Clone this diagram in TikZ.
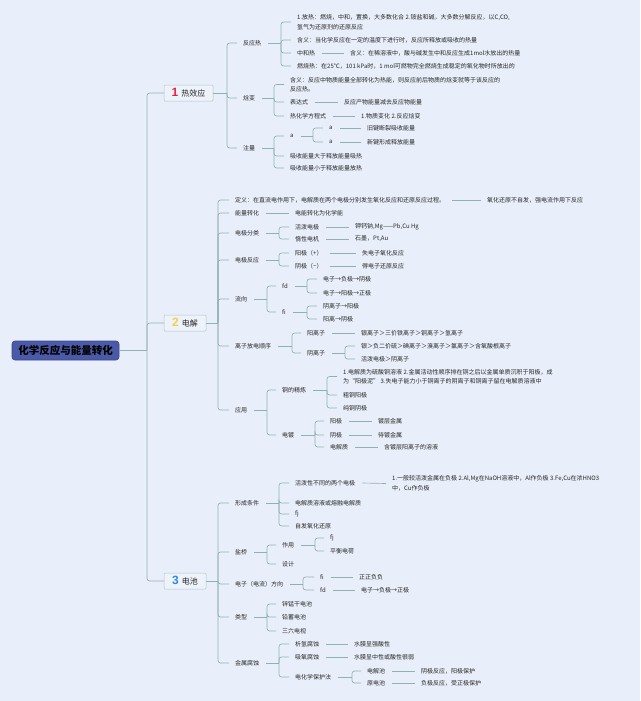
\documentclass[tikz,border=0pt]{standalone}
\usepackage{fontspec}
\newfontfamily\cjk{Noto Sans CJK SC}
\newfontfamily\numf{Liberation Sans}
\definecolor{bgc}{HTML}{E9EFFA}
\definecolor{linec}{HTML}{8FB1B3}
\definecolor{txtc}{HTML}{262626}
\definecolor{rootc}{HTML}{4A5AA8}
\definecolor{rootd}{HTML}{3A478A}
\definecolor{numr}{HTML}{E5233F}
\definecolor{numy}{HTML}{F4CF45}
\definecolor{numb}{HTML}{2B8CDD}
\definecolor{boxc}{HTML}{EEF3FB}
\definecolor{boxd}{HTML}{AFC3C8}
\newcommand\stem[2]{\draw[conn] ([xshift=7pt]#1.east) -- (#2,0 |- #1.east);}
\newcommand\kid[3]{\draw[conn] (#2,0 |- #1.east) |- ([xshift=-6pt]#3.west);}
\newcommand\lnk[2]{\draw[conn] ([xshift=7pt]#1.east) -- ([xshift=-6pt]#2.west);}
\begin{document}
\begin{tikzpicture}[x=1pt,y=-1pt,
 txt/.style={anchor=west,inner xsep=0pt,inner ysep=1pt,font=\cjk\fontsize{6}{9.5}\selectfont,text=txtc,align=left},
 conn/.style={draw=linec,line width=0.65pt,rounded corners=2.5pt},
 topic/.style={draw=boxd,fill=boxc,line width=0.5pt,rounded corners=1pt,minimum height=16pt,inner xsep=0pt,font=\cjk\fontsize{8}{8}\selectfont,text=txtc},
 rootbox/.style={draw=rootd,line width=0.6pt,fill=rootc,rounded corners=3pt,minimum width=107pt,minimum height=19pt,inner sep=0pt,font=\cjk\bfseries\fontsize{10.5}{10.5}\selectfont,text=black}]
\useasboundingbox (0,0) rectangle (640,701);
\fill[bgc] (0,0) rectangle (640,701);

% ---------- root and main topics ----------
\node[rootbox] (root) at (65.5,350.5) {化学反应与能量转化};
\node[topic,minimum width=49pt] (n1) at (188.5,93) {{\numf\bfseries\fontsize{12}{12}\selectfont\color{numr}1}\hspace{3pt}热效应};
\node[topic,minimum width=42pt] (n2) at (185,323) {{\numf\bfseries\fontsize{12}{12}\selectfont\color{numy}2}\hspace{3pt}电解};
\node[topic,minimum width=42pt] (n3) at (185,581) {{\numf\bfseries\fontsize{12}{12}\selectfont\color{numb}3}\hspace{3pt}电池};
\draw[conn] (root.east) -- (147,0 |- root.east);
\draw[conn] (147,0 |- root.east) |- (n1.west);
\draw[conn] (147,0 |- root.east) |- (n2.west);
\draw[conn] (147,0 |- root.east) |- (n3.west);

% ---------- 1 热效应 ----------
\node[txt] (fy) at (243,43) {反应热};
\node[txt] (hb) at (243,98) {焓变};
\node[txt] (zl) at (243,148) {注量};
\draw[conn] (n1.east) -- (227,0 |- n1.east);
\kid{n1}{227}{fy}\kid{n1}{227}{hb}\kid{n1}{227}{zl}

\node[txt] (fy1) at (297,22) {1.放热：燃烧，中和，置换，大多数化合 2.铵盐和碱，大多数分解反应，以C,CO,\\氢气为还原剂的还原反应};
\node[txt] (fy2) at (297,40) {含义：当化学反应在一定的温度下进行时，反应所释放或吸收的热量};
\node[txt] (fy3) at (297,53) {中和热};
\node[txt] (fy3a) at (350,53) {含义：在稀溶液中，酸与碱发生中和反应生成1mol水放出的热量};
\node[txt] (fy4) at (297,66) {燃烧热：在25℃，101 kPa时，1 mol可燃物完全燃烧生成稳定的氧化物时所放出的};
\stem{fy}{281}\kid{fy}{281}{fy1}\kid{fy}{281}{fy2}\kid{fy}{281}{fy3}\kid{fy}{281}{fy4}
\lnk{fy3}{fy3a}

\node[txt] (hb1) at (290,84.5) {含义：反应中物质能量全部转化为热能，则反应前后物质的焓变就等于该反应的\\反应热。};
\node[txt] (hb2) at (290,102) {表达式};
\node[txt] (hb2a) at (344,102) {反应产物能量减去反应物能量};
\node[txt] (hb3) at (290,116) {热化学方程式};
\node[txt] (hb3a) at (361,116) {1.物质变化 2.反应焓变};
\stem{hb}{274}\kid{hb}{274}{hb1}\kid{hb}{274}{hb2}\kid{hb}{274}{hb3}
\lnk{hb2}{hb2a}\lnk{hb3}{hb3a}

\node[txt] (zl1) at (290,136) {a};
\node[txt] (zl1a) at (329,128) {a};
\node[txt] (zl1aa) at (367,128) {旧键断裂吸收能量};
\node[txt] (zl1b) at (329,142) {a};
\node[txt] (zl1bb) at (367,142) {新键形成释放能量};
\node[txt] (zl2) at (290,156) {吸收能量大于释放能量吸热};
\node[txt] (zl3) at (290,168) {吸收能量小于释放能量放热};
\stem{zl}{274}\kid{zl}{274}{zl1}\kid{zl}{274}{zl2}\kid{zl}{274}{zl3}
\stem{zl1}{313}\kid{zl1}{313}{zl1a}\kid{zl1}{313}{zl1b}
\lnk{zl1a}{zl1aa}\lnk{zl1b}{zl1bb}

% ---------- 2 电解 ----------
\node[txt] (dy) at (235,200) {定义：在直流电作用下，电解质在两个电极分别发生氧化反应和还原反应过程。};
\node[txt] (dya) at (487,200) {氧化还原不自发，强电流作用下反应};
\node[txt] (nl) at (235,213) {能量转化};
\node[txt] (nla) at (295,213) {电能转化为化学能};
\node[txt] (dj) at (235,233) {电极分类};
\node[txt] (fyy) at (235,260) {电极反应};
\node[txt] (lx) at (235,299) {流向};
\node[txt] (lz) at (235,346) {离子放电顺序};
\node[txt] (yy) at (235,410) {应用};
\draw[conn] (n2.east) -- (218,0 |- n2.east);
\kid{n2}{218}{dy}\kid{n2}{218}{nl}\kid{n2}{218}{dj}\kid{n2}{218}{fyy}
\kid{n2}{218}{lx}\kid{n2}{218}{lz}\kid{n2}{218}{yy}
\lnk{dy}{dya}\lnk{nl}{nla}

\node[txt] (dj1) at (295,227) {活泼电极};
\node[txt] (dj1a) at (355,227) {钾钙钠,Mg——Pb,Cu Hg};
\node[txt] (dj2) at (295,239) {惰性电机};
\node[txt] (dj2a) at (355,239) {石墨，Pt,Au};
\stem{dj}{279}\kid{dj}{279}{dj1}\kid{dj}{279}{dj2}
\lnk{dj1}{dj1a}\lnk{dj2}{dj2a}

\node[txt] (fyy1) at (295,253) {阳极（+）};
\node[txt] (fyy1a) at (362,253) {失电子氧化反应};
\node[txt] (fyy2) at (295,266) {阴极（−）};
\node[txt] (fyy2a) at (362,266) {得电子还原反应};
\stem{fyy}{279}\kid{fyy}{279}{fyy1}\kid{fyy}{279}{fyy2}
\lnk{fyy1}{fyy1a}\lnk{fyy2}{fyy2a}

\node[txt] (lx1) at (282,286) {fd};
\node[txt] (lx1a) at (323,279) {电子→负极→阴极};
\node[txt] (lx1b) at (323,293) {电子→阳极→正极};
\node[txt] (lx2) at (282,312) {fi};
\node[txt] (lx2a) at (323,306) {阴离子→阳极};
\node[txt] (lx2b) at (323,319) {阳离→阴极};
\stem{lx}{267}\kid{lx}{267}{lx1}\kid{lx}{267}{lx2}
\stem{lx1}{307}\kid{lx1}{307}{lx1a}\kid{lx1}{307}{lx1b}
\stem{lx2}{307}\kid{lx2}{307}{lx2a}\kid{lx2}{307}{lx2b}

\node[txt] (lz1) at (307,333) {阳离子};
\node[txt] (lz1a) at (361,333) {银离子＞三价铁离子＞铜离子＞氢离子};
\node[txt] (lz2) at (307,353) {阴离子};
\node[txt] (lz2a) at (361,346) {银＞负二价硫＞碘离子＞溴离子＞氯离子＞含氧酸根离子};
\node[txt] (lz2b) at (361,359) {活泼电极＞阴离子};
\stem{lz}{292}\kid{lz}{292}{lz1}\kid{lz}{292}{lz2}
\lnk{lz1}{lz1a}
\stem{lz2}{345}\kid{lz2}{345}{lz2a}\kid{lz2}{345}{lz2b}

\node[txt] (yy1) at (282,390) {铜的精炼};
\node[txt] (yy1a) at (343,376.5) {1.电解质为硫酸铜溶液 2.金属活动性顺序排在铜之后以金属单质沉积于阳极，成\\为“阳极泥” 3.失电子能力小于铜离子的阴离子和铜离子留在电解质溶液中};
\node[txt] (yy1b) at (343,395) {粗铜阳极};
\node[txt] (yy1c) at (343,408) {纯铜阴极};
\node[txt] (yy2) at (282,435) {电镀};
\node[txt] (yy2a) at (330,421) {阳极};
\node[txt] (yy2aa) at (378,421) {镀层金属};
\node[txt] (yy2b) at (330,435) {阴极};
\node[txt] (yy2bb) at (378,435) {待镀金属};
\node[txt] (yy2c) at (330,447) {电解质};
\node[txt] (yy2cc) at (384,447) {含镀层阳离子的溶液};
\stem{yy}{267}\kid{yy}{267}{yy1}\kid{yy}{267}{yy2}
\stem{yy1}{327}\kid{yy1}{327}{yy1a}\kid{yy1}{327}{yy1b}\kid{yy1}{327}{yy1c}
\stem{yy2}{315}\kid{yy2}{315}{yy2a}\kid{yy2}{315}{yy2b}\kid{yy2}{315}{yy2c}
\lnk{yy2a}{yy2aa}\lnk{yy2b}{yy2bb}\lnk{yy2c}{yy2cc}

% ---------- 3 电池 ----------
\node[txt] (xc) at (235,503) {形成条件};
\node[txt] (yq) at (235,552) {盐桥};
\node[txt] (dz) at (235,584) {电子（电流）方向};
\node[txt] (lei) at (235,617) {类型};
\node[txt] (fs) at (235,663) {金属腐蚀};
\draw[conn] (n3.east) -- (218,0 |- n3.east);
\kid{n3}{218}{xc}\kid{n3}{218}{yq}\kid{n3}{218}{dz}\kid{n3}{218}{lei}\kid{n3}{218}{fs}

\node[txt] (xc1) at (295,483) {活泼性不同的两个电极};
\node[txt] (xc1a) at (392,483.5) {1.一般较活泼金属在负极 2.Al,Mg在NaOH溶液中，Al作负极 3.Fe,Cu在浓HNO3\\中，Cu作负极};
\node[txt] (xc2) at (295,503) {电解质溶液或熔融电解质};
\node[txt] (xc3) at (295,514) {fj};
\node[txt] (xc4) at (295,526) {自发氧化还原};
\stem{xc}{279}\kid{xc}{279}{xc1}\kid{xc}{279}{xc2}\kid{xc}{279}{xc3}\kid{xc}{279}{xc4}
\lnk{xc1}{xc1a}

\node[txt] (yq1) at (282,545) {作用};
\node[txt] (yq1a) at (330,538) {fj};
\node[txt] (yq1b) at (330,551) {平衡电荷};
\node[txt] (yq2) at (282,564) {设计};
\stem{yq}{267}\kid{yq}{267}{yq1}\kid{yq}{267}{yq2}
\stem{yq1}{315}\kid{yq1}{315}{yq1a}\kid{yq1}{315}{yq1b}

\node[txt] (dz1) at (320,577) {fi};
\node[txt] (dz1a) at (359,577) {正正负负};
\node[txt] (dz2) at (320,590) {fd};
\node[txt] (dz2a) at (361,590) {电子→负极→正极};
\stem{dz}{303}\kid{dz}{303}{dz1}\kid{dz}{303}{dz2}
\lnk{dz1}{dz1a}\lnk{dz2}{dz2a}

\node[txt] (lei1) at (282,604) {锌锰干电池};
\node[txt] (lei2) at (282,617) {铅蓄电池};
\node[txt] (lei3) at (282,631) {三六电视};
\stem{lei}{267}\kid{lei}{267}{lei1}\kid{lei}{267}{lei2}\kid{lei}{267}{lei3}

\node[txt] (fs1) at (295,644) {析氢腐蚀};
\node[txt] (fs1a) at (354,644) {水膜呈强酸性};
\node[txt] (fs2) at (295,657) {吸氧腐蚀};
\node[txt] (fs2a) at (354,657) {水膜呈中性或酸性很弱};
\node[txt] (fs3) at (295,677) {电化学保护法};
\node[txt] (fs3a) at (367,671) {电解池};
\node[txt] (fs3aa) at (421,671) {阴极反应，阳极保护};
\node[txt] (fs3b) at (367,683) {原电池};
\node[txt] (fs3bb) at (421,683) {负极反应，受正极保护};
\stem{fs}{279}\kid{fs}{279}{fs1}\kid{fs}{279}{fs2}\kid{fs}{279}{fs3}
\lnk{fs1}{fs1a}\lnk{fs2}{fs2a}
\stem{fs3}{352}\kid{fs3}{352}{fs3a}\kid{fs3}{352}{fs3b}
\lnk{fs3a}{fs3aa}\lnk{fs3b}{fs3bb}
\end{tikzpicture}
\end{document}
